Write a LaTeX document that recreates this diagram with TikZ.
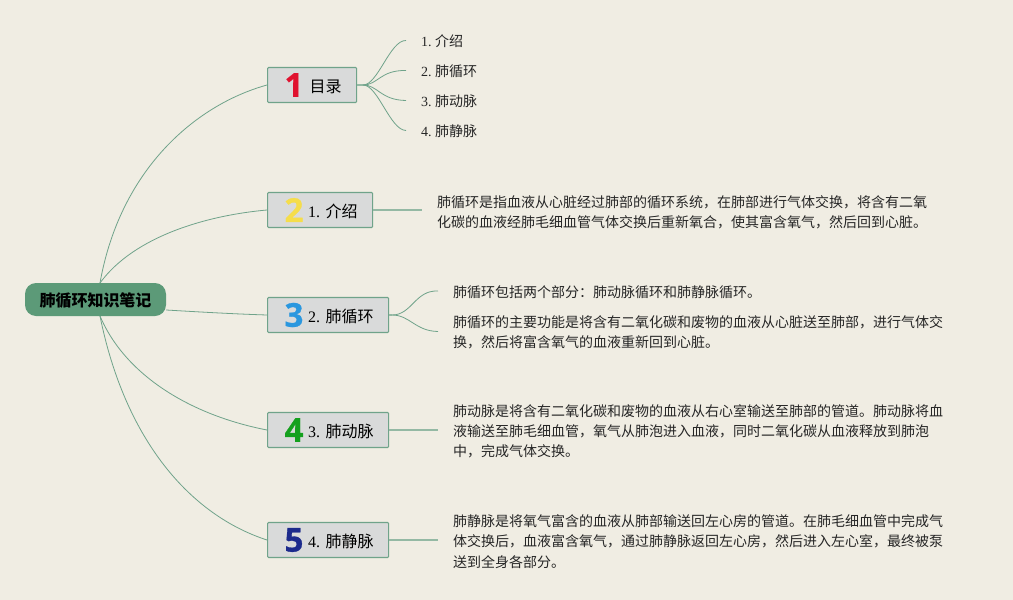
\documentclass[tikz,border=0pt]{standalone}
\usepackage{fontspec}
\setmainfont{Noto Sans CJK SC}
\newfontfamily\ser{Liberation Serif}
\newfontfamily\iconfont{Open Sans}[BoldFeatures={FakeBold=0.8}]
\frenchspacing
\definecolor{bgc}{HTML}{F0EDE3}
\definecolor{linec}{HTML}{6FA38A}
\definecolor{stubc}{HTML}{94B9A4}
\definecolor{rootc}{HTML}{5C9A78}
\definecolor{boxc}{HTML}{D9DADA}
\definecolor{txt}{HTML}{262626}
\newcommand{\sz}[1]{\fontsize{#1pt}{#1pt}\selectfont}
\newcommand{\dn}[1]{\raisebox{-1.4pt}[\height][\depth]{#1}}
\tikzset{
  conn/.style={draw=linec,line width=0.8pt},
  stub/.style={draw=stubc,line width=1.6pt},
  branch/.style={draw=linec,fill=boxc,line width=1.1pt,rounded corners=1pt,minimum height=35pt,inner xsep=15pt,inner ysep=0pt,align=right,anchor=west,text=black,font=\sz{16}},
  root/.style={fill=rootc,rounded corners=11pt,minimum width=141pt,minimum height=33pt,inner sep=0pt,anchor=center,text=black,font=\sz{16}\bfseries},
  leaf/.style={anchor=west,inner xsep=15pt,inner ysep=0pt,text=txt,font=\sz{14},yshift=-1pt},
  para/.style={anchor=west,inner xsep=15pt,inner ysep=0pt,text=txt,align=left,yshift=-1pt,font=\fontsize{14pt}{20.2pt}\selectfont},
  icon/.style={anchor=center,inner sep=0pt,font=\iconfont\bfseries\sz{33}}
}
\begin{document}
\begin{tikzpicture}[x=1pt,y=-1pt]
\useasboundingbox[fill=bgc] (0,0) rectangle (1013,600);
\node[root] (r) at (95.5,299.5) {\dn{肺循环知识笔记}};
\coordinate (rt) at (100,283);
\coordinate (rb) at (100,316);

\node[branch,text width=59pt] (b1) at (267,85) {\dn{目录}};
\node[branch,text width=75pt] (b2) at (267,210) {\dn{{\ser 1. }介绍}};
\node[branch,text width=91pt] (b3) at (267,315) {\dn{{\ser 2. }肺循环}};
\node[branch,text width=91pt] (b4) at (267,430) {\dn{{\ser 3. }肺动脉}};
\node[branch,text width=91pt] (b5) at (267,540) {\dn{{\ser 4. }肺静脉}};

\node[icon] (i1) at (294,85) {\textcolor[HTML]{E0122F}{1}};
\node[icon] (i2) at (294,210) {\textcolor[HTML]{F5DD4B}{2}};
\node[icon] (i3) at (294,315) {\textcolor[HTML]{2A97DF}{3}};
\node[icon] (i4) at (294,430) {\textcolor[HTML]{14A01E}{4}};
\node[icon] (i5) at (294,540) {\textcolor[HTML]{1C2A8C}{5}};

\node[leaf] (l1) at (406,40.5) {{\ser 1. }介绍};
\node[leaf] (l2) at (406,70.5) {{\ser 2. }肺循环};
\node[leaf] (l3) at (406,100.5) {{\ser 3. }肺动脉};
\node[leaf] (l4) at (406,130.5) {{\ser 4. }肺静脉};

\node[para] (p2) at (422,211) {肺循环是指血液从心脏经过肺部的循环系统，在肺部进行气体交换，将含有二氧\\化碳的血液经肺毛细血管气体交换后重新氧合，使其富含氧气，然后回到心脏。};
\node[para] (p3a) at (438,291) {肺循环包括两个部分：肺动脉循环和肺静脉循环。};
\node[para] (p3b) at (438,331.5) {肺循环的主要功能是将含有二氧化碳和废物的血液从心脏送至肺部，进行气体交\\换，然后将富含氧气的血液重新回到心脏。};
\node[para] (p4) at (438,430.5) {肺动脉是将含有二氧化碳和废物的血液从右心室输送至肺部的管道。肺动脉将血\\液输送至肺毛细血管，氧气从肺泡进入血液，同时二氧化碳从血液释放到肺泡\\中，完成气体交换。};
\node[para] (p5) at (438,540.5) {肺静脉是将氧气富含的血液从肺部输送回左心房的管道。在肺毛细血管中完成气\\体交换后，血液富含氧气，通过肺静脉返回左心房，然后进入左心室，最终被泵\\送到全身各部分。};

\draw[conn] (rt) .. controls (120,170) and (195,105) .. (b1.west);
\draw[conn] (rt) .. controls (135,235) and (210,215) .. (b2.west);
\draw[conn] (r.east |- 0,310) .. controls (200,312) and (235,314) .. (b3.west);
\draw[conn] (rb) .. controls (125,375) and (190,415) .. (b4.west);
\draw[conn] (rb) .. controls (125,440) and (190,515) .. (b5.west);

\coordinate (h1) at (363,85);
\draw[stub] (b1.east) -- (h1);
\foreach \t/\a/\b in {l1/390/40,l2/380/70,l3/380/100,l4/390/130}{
  \draw[conn] (h1) .. controls (378,85) and (\a,\b) .. ([yshift=1pt]\t.west);
}
\draw[stub] (b2.east) -- (b2.east -| p2.west);
\coordinate (h3) at (392,315);
\draw[stub] (b3.east) -- (h3);
\draw[conn] (h3) .. controls (412,315) and (415,290) .. ([yshift=1pt]p3a.west);
\draw[conn] (h3) .. controls (410,315) and (415,331) .. ([yshift=1pt]p3b.west);
\draw[stub] (b4.east) -- (b4.east -| p4.west);
\draw[stub] (b5.east) -- (b5.east -| p5.west);
\end{tikzpicture}
\end{document}
